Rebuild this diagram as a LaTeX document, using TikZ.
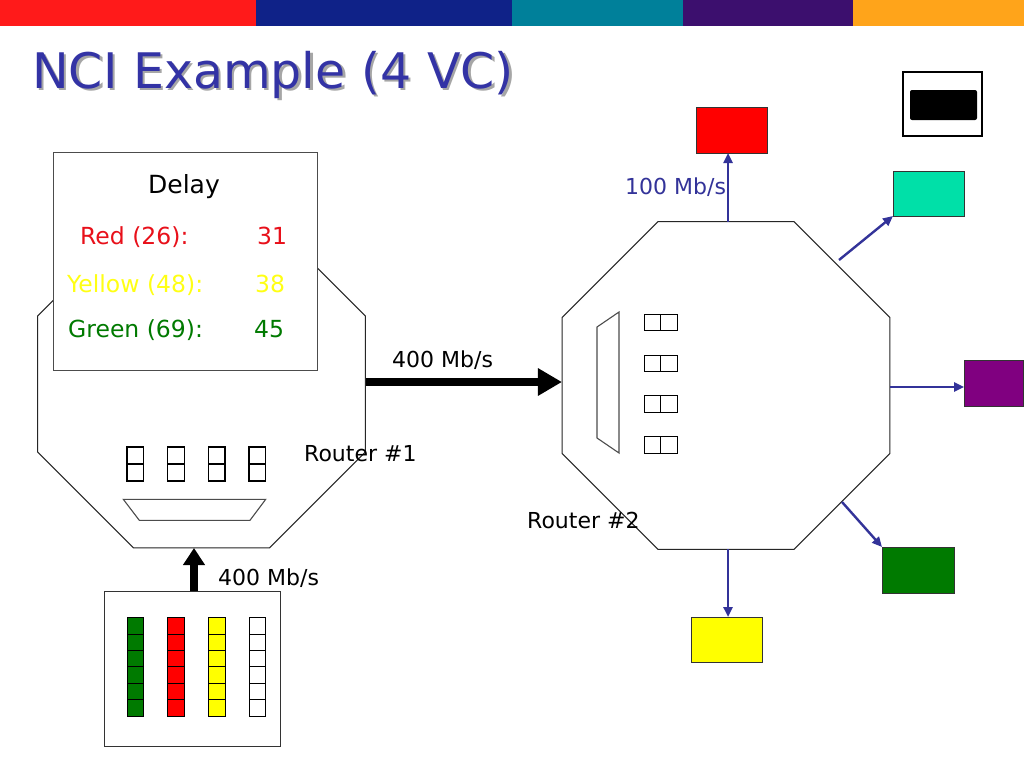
\documentclass[tikz,border=0pt]{standalone}
\usepackage{fontspec}
\setmainfont{DejaVu Sans}
\usetikzlibrary{arrows.meta,shapes.geometric}
\definecolor{barred}{RGB}{255,26,26}
\definecolor{barblue}{RGB}{15,34,136}
\definecolor{barteal}{RGB}{0,128,154}
\definecolor{barpurple}{RGB}{60,15,110}
\definecolor{barorange}{RGB}{255,164,26}
\definecolor{titleblue}{RGB}{51,51,165}
\definecolor{linkblue}{RGB}{51,51,153}
\definecolor{vcred}{RGB}{255,0,0}
\definecolor{vcyellow}{RGB}{255,255,0}
\definecolor{vcgreen}{RGB}{0,122,0}
\definecolor{vcteal}{RGB}{0,224,168}
\definecolor{vcpurple}{RGB}{128,0,128}
\definecolor{txtred}{RGB}{232,16,26}
\definecolor{txtyellow}{RGB}{255,255,20}
\definecolor{txtgreen}{RGB}{0,122,0}
\begin{document}
\begin{tikzpicture}[x=1pt,y=-1pt,
  router/.style={regular polygon, regular polygon sides=8, minimum size=355pt, inner sep=0pt, outer sep=0pt, draw=black!85, line width=1pt},
  qcell/.style={draw=black, line width=1.1pt, inner sep=0pt, outer sep=0pt},
  scell/.style={draw=black, line width=1pt, inner sep=0pt, outer sep=0pt, minimum width=16.7pt, minimum height=16.4pt},
  obox/.style={draw=black!80, line width=1pt, inner sep=0pt, outer sep=0pt},
  trap/.style={draw=black!70, line width=1.1pt},
  fatarrow/.style={draw=black, line width=8pt},
  linkarrow/.style={draw=linkblue, line width=2.4pt, -{Triangle[length=10pt,width=9pt]}},
  lbl/.style={anchor=base west, inner sep=0pt, font=\fontsize{22}{22}\selectfont},
  dlbl/.style={anchor=base west, inner sep=0pt, font=\fontsize{23.5}{23.5}\selectfont}
]
\useasboundingbox (0,0) rectangle (1024,768);
\fill[white] (0,0) rectangle (1024,768);
% top bar
\fill[barred] (0,0) rectangle (256,26);
\fill[barblue] (256,0) rectangle (512,26);
\fill[barteal] (512,0) rectangle (683,26);
\fill[barpurple] (683,0) rectangle (853,26);
\fill[barorange] (853,0) rectangle (1024,26);
% title (with its drop shadow)
\node[anchor=base west, inner sep=0pt, text=black!35, font=\fontsize{49}{49}\selectfont] (titleshadow) at (34.5,90.5) {NCI Example (4 VC)};
\node[anchor=base west, inner sep=0pt, text=titleblue, font=\fontsize{49}{49}\selectfont] (title) at (32,88) {NCI Example (4 VC)};
% logo box
\node[obox, draw=black, line width=2pt, minimum width=79pt, minimum height=64pt] (logo) at (942.5,104) {};
\node[fill=black, inner sep=0pt, minimum width=67pt, minimum height=30pt, rounded corners=2pt] (logoink) at (943.5,105) {};

% router 1
\node[router] (r1) at (201.5,384) {};
\foreach \x [count=\i] in {127,167.5,208.3,249}
  \foreach \k in {0,1}
    \node[qcell, minimum width=16.7pt, minimum height=17pt] (q1-\i-\k) at (\x+8.35,455.5+17*\k) {};
\draw[trap] (123.3,499.3) -- (265.7,499.3) -- (250,520.3) -- (139.3,520.3) -- cycle;
\node[lbl] (rt1) at (304,461) {Router \#1};

% delay box
\node[draw=black!70, line width=1pt, fill=white, minimum width=264pt, minimum height=218pt, inner sep=0pt] (delay) at (185,261) {};
\node[anchor=base, inner sep=0pt, font=\fontsize{25}{25}\selectfont] (dtitle) at (184,193) {Delay};
\node[dlbl, text=txtred] (dred) at (80,244) {Red (26):};
\node[dlbl, text=txtred] (dredv) at (257,244) {31};
\node[dlbl, text=txtyellow] (dyel) at (67,292) {Yellow (48):};
\node[dlbl, text=txtyellow] (dyelv) at (255,292) {38};
\node[dlbl, text=txtgreen] (dgrn) at (68,337) {Green (69):};
\node[dlbl, text=txtgreen] (dgrnv) at (254,337) {45};

% source box
\node[draw=black!80, line width=1pt, minimum width=176pt, minimum height=155pt, inner sep=0pt] (src) at (192,668.5) {};
\foreach \c/\x [count=\i] in {vcgreen/127,vcred/167.5,vcyellow/208.3,white/249}
  \foreach \k in {0,...,5}
    \node[scell, fill=\c] (s\i-\k) at (\x+8.35,625.9+16.4*\k) {};
\coordinate (a1) at (194,591);
\draw[fatarrow, -{Triangle[length=17pt,width=21pt]}] (a1) -- (a1 |- r1.south);
\node[lbl] (l400b) at (218,585) {400 Mb/s};

% router 2
\node[router] (r2) at (726,385.5) {};
\draw[trap] (597,327) -- (619,312) -- (619,453) -- (597,438) -- cycle;
\foreach \y [count=\i] in {322.5,363.3,404,445}
  \foreach \x [count=\k] in {652.5,669}
    \node[qcell, minimum width=16.5pt, minimum height=16.5pt] (q2-\i-\k) at (\x,\y) {};
\node[lbl] (rt2) at (527,528) {Router \#2};

% link between routers
\draw[fatarrow, -{Triangle[length=24pt,width=26pt]}] ([yshift=2pt]r1.east) -- ([yshift=2pt]r1.east -| r2.west);
\node[lbl] (l400a) at (392,367) {400 Mb/s};

% output boxes
\node[obox, fill=vcred, minimum width=71pt, minimum height=46pt] (outred) at (731.5,130) {};
\node[obox, fill=vcteal, minimum width=71pt, minimum height=45pt] (outteal) at (928.5,193.5) {};
\node[obox, fill=vcpurple, minimum width=59pt, minimum height=46pt] (outpurple) at (993.5,383) {};
\node[obox, fill=vcgreen, minimum width=72pt, minimum height=46pt] (outgreen) at (918,570) {};
\node[obox, fill=vcyellow, minimum width=71pt, minimum height=45pt] (outyellow) at (727,639.5) {};

\coordinate (o1) at (728,222);
\coordinate (o2) at (839,260);
\coordinate (o3) at (890,387);
\coordinate (o4) at (842,502);
\coordinate (o5) at (728,549);
\draw[linkarrow] (o1) -- (o1 |- outred.south);
\draw[linkarrow] (o2) -- (outteal.south west);
\draw[linkarrow] (o3) -- (o3 -| outpurple.west);
\draw[linkarrow] (o4) -- (outgreen.north west);
\draw[linkarrow] (o5) -- (o5 |- outyellow.north);
\node[lbl, text=linkblue] (l100) at (625,194) {100 Mb/s};
\end{tikzpicture}
\end{document}
